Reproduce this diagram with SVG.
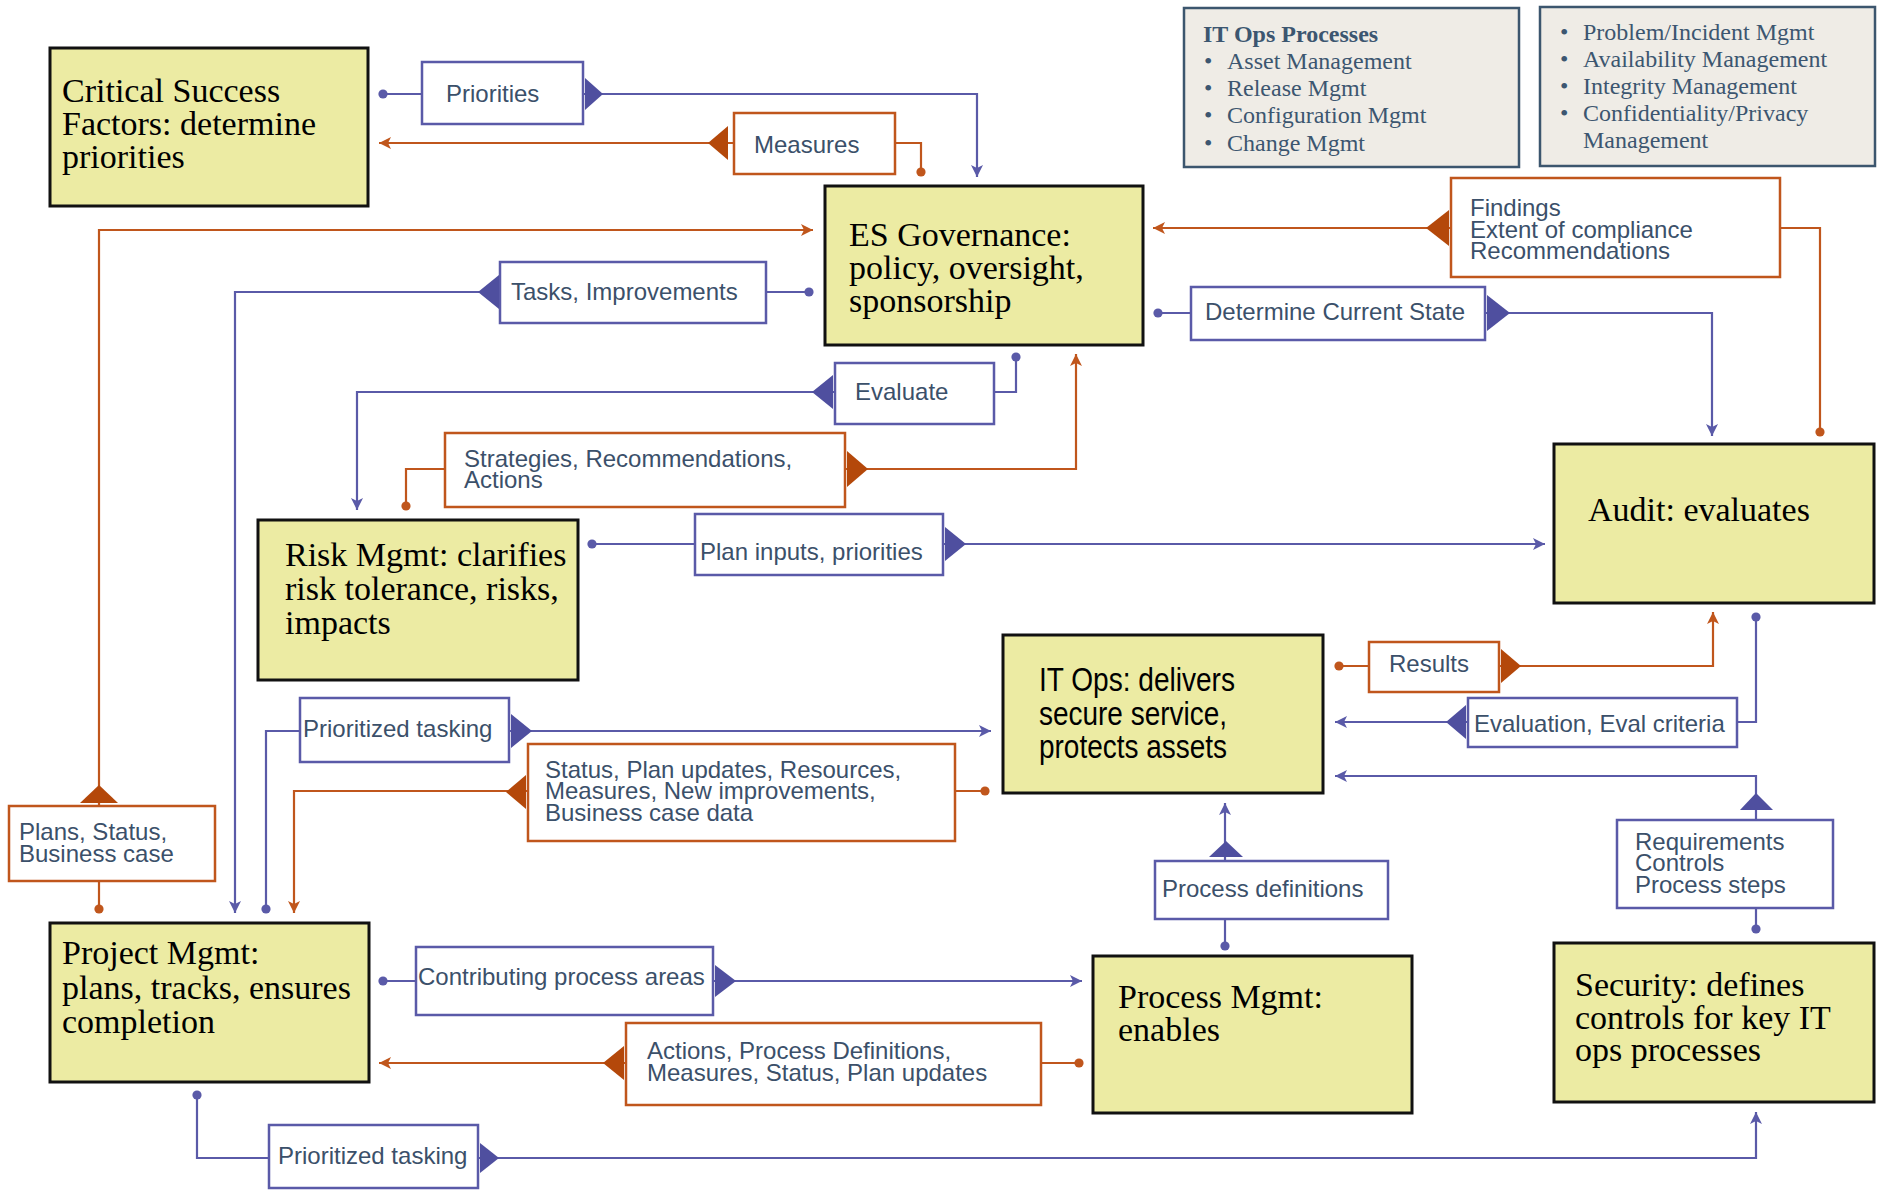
<svg xmlns="http://www.w3.org/2000/svg" width="1883" height="1190" viewBox="0 0 1883 1190">
<style>
.node{fill:#ECEBA3;stroke:#111;stroke-width:3}
.nt{font-family:"Liberation Serif","Times New Roman",serif;font-size:34px;fill:#000}
.nn{font-family:"Liberation Sans Narrow","Liberation Sans",Arial,sans-serif;font-size:34px;fill:#000}
.info{fill:#EFECE6;stroke:#3C566E;stroke-width:2.5}
.it{font-family:"Liberation Serif","Times New Roman",serif;font-size:24px;fill:#3C5670}
.ith{font-family:"Liberation Serif","Times New Roman",serif;font-size:24px;font-weight:bold;fill:#3C5670}
.lb{fill:#fff;stroke:#5A5AA8;stroke-width:2.5}
.lo{fill:#fff;stroke:#C0561C;stroke-width:2.5}
.lt{font-family:"Liberation Sans",Arial,sans-serif;font-size:24px;fill:#3B506A}
.cb{fill:none;stroke:#5A5AA8;stroke-width:2.2}
.co{fill:none;stroke:#C0561C;stroke-width:2.2}
.tb{fill:#4F4F9F}
.to{fill:#B4480A}
</style>
<defs>
<marker id="ab" markerUnits="userSpaceOnUse" markerWidth="13" markerHeight="12" refX="12" refY="6" orient="auto"><path d="M0,0 L12,6 L0,12 L3,6 z" fill="#5A5AA8"/></marker>
<marker id="ao" markerUnits="userSpaceOnUse" markerWidth="13" markerHeight="12" refX="12" refY="6" orient="auto"><path d="M0,0 L12,6 L0,12 L3,6 z" fill="#C0561C"/></marker>
<marker id="db" markerUnits="userSpaceOnUse" markerWidth="11" markerHeight="11" refX="5.5" refY="5.5"><circle cx="5.5" cy="5.5" r="4.6" fill="#5A5AA8"/></marker>
<marker id="do" markerUnits="userSpaceOnUse" markerWidth="11" markerHeight="11" refX="5.5" refY="5.5"><circle cx="5.5" cy="5.5" r="4.6" fill="#C0561C"/></marker>
</defs>
<rect x="0" y="0" width="1883" height="1190" fill="#FFFFFF"/>

<g id="connectors">
<path class="cb" d="M383,94 H977 V177" marker-start="url(#db)" marker-end="url(#ab)"/>
<path class="co" d="M921,172 V143 H379" marker-start="url(#do)" marker-end="url(#ao)"/>
<path class="co" d="M99,909 V230 H813" marker-start="url(#do)" marker-end="url(#ao)"/>
<path class="cb" d="M809,292 H235 V913" marker-start="url(#db)" marker-end="url(#ab)"/>
<path class="cb" d="M1016,357 V392 H357 V510" marker-start="url(#db)" marker-end="url(#ab)"/>
<path class="co" d="M406,506 V469 H1076 V354" marker-start="url(#do)" marker-end="url(#ao)"/>
<path class="cb" d="M592,544 H1545" marker-start="url(#db)" marker-end="url(#ab)"/>
<path class="co" d="M1820,432 V228 H1153" marker-start="url(#do)" marker-end="url(#ao)"/>
<path class="cb" d="M1158,313 H1712 V436" marker-start="url(#db)" marker-end="url(#ab)"/>
<path class="co" d="M1339,666 H1713 V612" marker-start="url(#do)" marker-end="url(#ao)"/>
<path class="cb" d="M1756,617 V722 H1335" marker-start="url(#db)" marker-end="url(#ab)"/>
<path class="cb" d="M1756,929 V776 H1335" marker-start="url(#db)" marker-end="url(#ab)"/>
<path class="cb" d="M1225,946 V803" marker-start="url(#db)" marker-end="url(#ab)"/>
<path class="cb" d="M266,909 V731 H991" marker-start="url(#db)" marker-end="url(#ab)"/>
<path class="co" d="M985,791 H294 V913" marker-start="url(#do)" marker-end="url(#ao)"/>
<path class="cb" d="M383,981 H1082" marker-start="url(#db)" marker-end="url(#ab)"/>
<path class="co" d="M1079,1063 H379" marker-start="url(#do)" marker-end="url(#ao)"/>
<path class="cb" d="M197,1095 V1158 H1756 V1112" marker-start="url(#db)" marker-end="url(#ab)"/>
</g>

<g id="labels">
<g id="lbl-priorities"><rect class="lb" x="422" y="62" width="161" height="62"/><polygon class="tb" points="585,78 603,94 585,110"/><text class="lt" x="446" y="102">Priorities</text></g>
<g id="lbl-measures"><rect class="lo" x="734" y="113" width="161" height="61"/><polygon class="to" points="728,126 708,143 728,160"/><text class="lt" x="754" y="153">Measures</text></g>
<g id="lbl-plans"><rect class="lo" x="9" y="806" width="206" height="75"/><polygon class="to" points="80,803 99,785 118,803"/><text class="lt" x="19" y="840">Plans, Status,</text><text class="lt" x="19" y="862">Business case</text></g>
<g id="lbl-tasks"><rect class="lb" x="500" y="262" width="266" height="61"/><polygon class="tb" points="499,275 478,292 499,309"/><text class="lt" x="511" y="300">Tasks, Improvements</text></g>
<g id="lbl-evaluate"><rect class="lb" x="835" y="363" width="159" height="61"/><polygon class="tb" points="833,375 812,392 833,409"/><text class="lt" x="855" y="400">Evaluate</text></g>
<g id="lbl-strategies"><rect class="lo" x="445" y="433" width="400" height="74"/><polygon class="to" points="847,451 868,469 847,487"/><text class="lt" x="464" y="467">Strategies, Recommendations,</text><text class="lt" x="464" y="488">Actions</text></g>
<g id="lbl-planinputs"><rect class="lb" x="695" y="514" width="248" height="61"/><polygon class="tb" points="945,527 966,544 945,561"/><text class="lt" x="700" y="560">Plan inputs, priorities</text></g>
<g id="lbl-findings"><rect class="lo" x="1451" y="178" width="329" height="99"/><polygon class="to" points="1449,210 1426,228 1449,246"/><text class="lt" x="1470" y="216">Findings</text><text class="lt" x="1470" y="238">Extent of compliance</text><text class="lt" x="1470" y="259">Recommendations</text></g>
<g id="lbl-determine"><rect class="lb" x="1191" y="287" width="294" height="53"/><polygon class="tb" points="1487,295 1510,313 1487,331"/><text class="lt" x="1205" y="320">Determine Current State</text></g>
<g id="lbl-results"><rect class="lo" x="1369" y="642" width="130" height="50"/><polygon class="to" points="1501,649 1521,666 1501,683"/><text class="lt" x="1389" y="672">Results</text></g>
<g id="lbl-evaluation"><rect class="lb" x="1468" y="698" width="269" height="49"/><polygon class="tb" points="1466,705 1446,722 1466,739"/><text class="lt" x="1474" y="732">Evaluation, Eval criteria</text></g>
<g id="lbl-requirements"><rect class="lb" x="1617" y="820" width="216" height="88"/><polygon class="tb" points="1740,810 1756,793 1773,810"/><text class="lt" x="1635" y="850">Requirements</text><text class="lt" x="1635" y="871">Controls</text><text class="lt" x="1635" y="893">Process steps</text></g>
<g id="lbl-procdefs"><rect class="lb" x="1155" y="861" width="233" height="58"/><polygon class="tb" points="1209,857 1226,841 1243,857"/><text class="lt" x="1162" y="897">Process definitions</text></g>
<g id="lbl-tasking1"><rect class="lb" x="300" y="698" width="209" height="64"/><polygon class="tb" points="511,714 532,731 511,748"/><text class="lt" x="303" y="737">Prioritized tasking</text></g>
<g id="lbl-status"><rect class="lo" x="528" y="744" width="427" height="97"/><polygon class="to" points="526,775 506,792 526,809"/><text class="lt" x="545" y="778">Status, Plan updates, Resources,</text><text class="lt" x="545" y="799">Measures, New improvements,</text><text class="lt" x="545" y="821">Business case data</text></g>
<g id="lbl-contributing"><rect class="lb" x="416" y="947" width="297" height="68"/><polygon class="tb" points="715,965 736,981 715,997"/><text class="lt" x="418" y="985">Contributing process areas</text></g>
<g id="lbl-actions"><rect class="lo" x="626" y="1023" width="415" height="82"/><polygon class="to" points="624,1046 603,1063 624,1080"/><text class="lt" x="647" y="1059">Actions, Process Definitions,</text><text class="lt" x="647" y="1081">Measures, Status, Plan updates</text></g>
<g id="lbl-tasking2"><rect class="lb" x="269" y="1125" width="209" height="63"/><polygon class="tb" points="480,1143 499,1158 480,1173"/><text class="lt" x="278" y="1164">Prioritized tasking</text></g>
</g>

<g id="info-itops">
<rect class="info" x="1184" y="8" width="335" height="159"/>
<text class="ith" x="1203" y="42">IT Ops Processes</text>
<text class="it" x="1204" y="69">•</text><text class="it" x="1227" y="69">Asset Management</text>
<text class="it" x="1204" y="96">•</text><text class="it" x="1227" y="96">Release Mgmt</text>
<text class="it" x="1204" y="123">•</text><text class="it" x="1227" y="123">Configuration Mgmt</text>
<text class="it" x="1204" y="151">•</text><text class="it" x="1227" y="151">Change Mgmt</text>
</g>
<g id="info-more">
<rect class="info" x="1540" y="7" width="335" height="159"/>
<text class="it" x="1560" y="40">•</text><text class="it" x="1583" y="40">Problem/Incident Mgmt</text>
<text class="it" x="1560" y="67">•</text><text class="it" x="1583" y="67">Availability Management</text>
<text class="it" x="1560" y="94">•</text><text class="it" x="1583" y="94">Integrity Management</text>
<text class="it" x="1560" y="121">•</text><text class="it" x="1583" y="121">Confidentiality/Privacy</text>
<text class="it" x="1583" y="148">Management</text>
</g>

<g id="node-csf"><rect class="node" x="50" y="48" width="318" height="158"/>
<text class="nt" x="62" y="102">Critical Success</text><text class="nt" x="62" y="135">Factors: determine</text><text class="nt" x="62" y="168">priorities</text></g>
<g id="node-esgov"><rect class="node" x="825" y="186" width="318" height="159"/>
<text class="nt" x="849" y="246">ES Governance:</text><text class="nt" x="849" y="279">policy, oversight,</text><text class="nt" x="849" y="312">sponsorship</text></g>
<g id="node-risk"><rect class="node" x="258" y="520" width="320" height="160"/>
<text class="nt" x="285" y="566">Risk Mgmt: clarifies</text><text class="nt" x="285" y="600">risk tolerance, risks,</text><text class="nt" x="285" y="634">impacts</text></g>
<g id="node-audit"><rect class="node" x="1554" y="444" width="320" height="159"/>
<text class="nt" x="1588" y="521">Audit: evaluates</text></g>
<g id="node-itops"><rect class="node" x="1003" y="635" width="320" height="158"/>
<text class="nn" x="1039" y="691" textLength="196" lengthAdjust="spacingAndGlyphs">IT Ops: delivers</text><text class="nn" x="1039" y="725" textLength="188" lengthAdjust="spacingAndGlyphs">secure service,</text><text class="nn" x="1039" y="758" textLength="188" lengthAdjust="spacingAndGlyphs">protects assets</text></g>
<g id="node-project"><rect class="node" x="50" y="923" width="319" height="159"/>
<text class="nt" x="62" y="964">Project Mgmt:</text><text class="nt" x="62" y="999">plans, tracks, ensures</text><text class="nt" x="62" y="1033">completion</text></g>
<g id="node-process"><rect class="node" x="1093" y="956" width="319" height="157"/>
<text class="nt" x="1118" y="1008">Process Mgmt:</text><text class="nt" x="1118" y="1041">enables</text></g>
<g id="node-security"><rect class="node" x="1554" y="943" width="320" height="159"/>
<text class="nt" x="1575" y="996">Security: defines</text><text class="nt" x="1575" y="1029">controls for key IT</text><text class="nt" x="1575" y="1061">ops processes</text></g>
</svg>
